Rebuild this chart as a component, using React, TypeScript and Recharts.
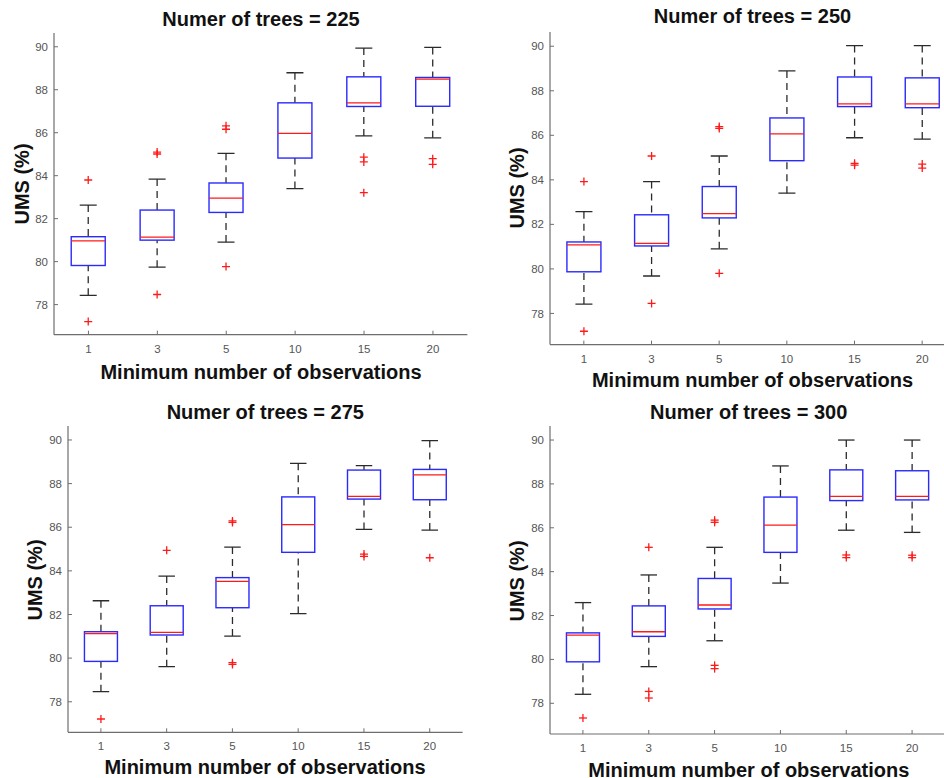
import React from "react";
import { ComposedChart, Bar, XAxis, YAxis } from "recharts";

const categories = ["1", "3", "5", "10", "15", "20"];
const yTicks = [78, 80, 82, 84, 86, 88, 90];
const yDomain: [number, number] = [76.6, 90.64];

// rows: [lower whisker, Q1, median, Q3, upper whisker]
const stats225 = [
  [78.43, 79.82, 80.97, 81.16, 82.63],
  [79.74, 81.0, 81.14, 82.4, 83.84],
  [80.91, 82.29, 82.96, 83.66, 85.04],
  [83.4, 84.82, 85.97, 87.39, 88.79],
  [85.85, 87.22, 87.39, 88.6, 89.94],
  [85.76, 87.23, 88.49, 88.57, 89.97],
];
const outliers225 = [
  [77.21, 83.8],
  [78.47, 85.01, 85.1],
  [79.77, 86.16, 86.32],
  [],
  [83.21, 84.64, 84.86],
  [84.53, 84.79],
];

const stats250 = [
  [78.42, 79.87, 81.08, 81.21, 82.57],
  [79.68, 81.03, 81.15, 82.43, 83.92],
  [80.9, 82.29, 82.48, 83.7, 85.07],
  [83.4, 84.86, 86.06, 86.78, 88.89],
  [85.89, 87.29, 87.41, 88.62, 90.03],
  [85.83, 87.24, 87.41, 88.58, 90.03],
];
const outliers250 = [
  [77.2, 83.92],
  [78.45, 85.07],
  [79.8, 86.31, 86.39],
  [],
  [84.66, 84.74],
  [84.53, 84.71],
];

const stats275 = [
  [78.46, 79.85, 81.12, 81.21, 82.63],
  [79.61, 81.06, 81.18, 82.4, 83.76],
  [81.01, 82.31, 83.52, 83.69, 85.09],
  [82.04, 84.85, 86.12, 87.39, 88.93],
  [85.9, 87.29, 87.41, 88.62, 88.82],
  [85.87, 87.26, 88.4, 88.65, 89.97],
];
const outliers275 = [
  [77.21],
  [84.94],
  [79.71, 79.79, 86.22, 86.29],
  [],
  [84.66, 84.77],
  [84.6],
];

const stats300 = [
  [78.41, 79.89, 81.11, 81.21, 82.59],
  [79.67, 81.05, 81.26, 82.44, 83.85],
  [80.85, 82.3, 82.48, 83.69, 85.11],
  [83.48, 84.88, 86.12, 87.4, 88.82],
  [85.89, 87.24, 87.43, 88.64, 90.0],
  [85.79, 87.27, 87.43, 88.6, 90.0],
];
const outliers300 = [
  [77.33],
  [78.24, 78.54, 85.11],
  [79.58, 79.73, 86.25, 86.35],
  [],
  [84.64, 84.76],
  [84.64, 84.75],
];

const FONT = '"Liberation Sans", Arial, Helvetica, sans-serif';
const AXIS_GRAY = "#6e6e6e";
const TICK_GRAY = "#555555";
const BOX_BLUE = "#2a2aff";
const MEDIAN_RED = "#ff1a1a";
const WHISKER = "#2b2b2b";

const buildRows = (stats: number[][], outliers: number[][]) =>
  categories.map((cat, i) => {
    const [w0, q1, med, q3, w1] = stats[i];
    const pts = outliers[i];
    const lo = Math.min(w0, ...pts);
    const hi = Math.max(w1, ...pts);
    return { cat, range: [lo, hi], lo, hi, w0, q1, med, q3, w1, pts };
  });

// The bar spans lo..hi of each group; everything else is placed
// proportionally inside that pixel span (the y scale is linear).
const BoxPlotShape = (props: any) => {
  const { x, y, width, height, payload } = props;
  if (!payload || width == null) return <g />;
  const top = Math.min(y, y + height);
  const bot = Math.max(y, y + height);
  const span = payload.hi - payload.lo;
  const toY = (v: number) =>
    span === 0 ? top : top + ((payload.hi - v) / span) * (bot - top);
  const cx = x + width / 2;
  const cap = width / 4;
  const yQ1 = toY(payload.q1);
  const yQ3 = toY(payload.q3);
  const yW0 = toY(payload.w0);
  const yW1 = toY(payload.w1);
  const yMed = toY(payload.med);
  return (
    <g>
      <line x1={cx} x2={cx} y1={yW1} y2={yQ3} stroke={WHISKER} strokeWidth={1.3} strokeDasharray="7 5" />
      <line x1={cx} x2={cx} y1={yW0} y2={yQ1} stroke={WHISKER} strokeWidth={1.3} strokeDasharray="7 5" />
      <line x1={cx - cap} x2={cx + cap} y1={yW1} y2={yW1} stroke={WHISKER} strokeWidth={1.3} />
      <line x1={cx - cap} x2={cx + cap} y1={yW0} y2={yW0} stroke={WHISKER} strokeWidth={1.3} />
      <rect x={x} y={yQ3} width={width} height={yQ1 - yQ3} fill="none" stroke={BOX_BLUE} strokeWidth={1.4} />
      <line x1={x} x2={x + width} y1={yMed} y2={yMed} stroke={MEDIAN_RED} strokeWidth={1.3} />
      {payload.pts.map((p: number, k: number) => {
        const py = toY(p);
        return (
          <g key={k} stroke={MEDIAN_RED} strokeWidth={1.3}>
            <line x1={cx - 4} x2={cx + 4} y1={py} y2={py} />
            <line x1={cx} x2={cx} y1={py - 4} y2={py + 4} />
          </g>
        );
      })}
    </g>
  );
};

interface PanelProps {
  title: string;
  stats: number[][];
  outliers: number[][];
  plot: { l: number; t: number; r: number; b: number };
  titleAt: [number, number];
  xLabelAt: [number, number];
  yLabelAt: [number, number];
}

const Y_AXIS_W = 40;
const X_AXIS_H = 30;
const PAD = 6;

const labelStyle = (at: [number, number], rotate = false): React.CSSProperties => ({
  position: "absolute",
  left: at[0],
  top: at[1],
  transform: `translate(-50%, -50%)${rotate ? " rotate(-90deg)" : ""}`,
  whiteSpace: "nowrap",
  fontFamily: FONT,
  fontWeight: "bold",
  fontSize: 20,
  color: "#111",
  lineHeight: 1,
});

const Panel: React.FC<PanelProps> = ({ title, stats, outliers, plot, titleAt, xLabelAt, yLabelAt }) => {
  const rows = buildRows(stats, outliers);
  const w = plot.r - plot.l + Y_AXIS_W + PAD;
  const h = plot.b - plot.t + X_AXIS_H + PAD;
  const axisProps = {
    axisLine: { stroke: AXIS_GRAY, strokeWidth: 1.2 },
    tickLine: { stroke: AXIS_GRAY, strokeWidth: 1 },
    tickSize: -4,
  };
  return (
    <>
      <div style={{ position: "absolute", left: plot.l - Y_AXIS_W, top: plot.t - PAD }}>
        <ComposedChart
          width={w}
          height={h}
          data={rows}
          margin={{ top: PAD, right: PAD, bottom: 0, left: 0 }}
          barCategoryGap="25%"
        >
          <XAxis
            xAxisId="bottom"
            dataKey="cat"
            orientation="bottom"
            height={X_AXIS_H}
            interval={0}
            tickMargin={14}
            tick={{ fill: TICK_GRAY, fontSize: 11.5, fontFamily: FONT }}
            {...axisProps}
          />
          <XAxis xAxisId="top" dataKey="cat" orientation="top" height={0} interval={0} tick={false} {...axisProps} />
          <YAxis
            yAxisId="left"
            type="number"
            domain={yDomain}
            ticks={yTicks}
            allowDataOverflow
            width={Y_AXIS_W}
            tickMargin={10}
            tick={{ fill: TICK_GRAY, fontSize: 11.5, fontFamily: FONT }}
            {...axisProps}
          />
          <YAxis
            yAxisId="right"
            orientation="right"
            type="number"
            domain={yDomain}
            ticks={yTicks}
            allowDataOverflow
            width={0}
            tick={false}
            {...axisProps}
          />
          <Bar
            dataKey="range"
            xAxisId="bottom"
            yAxisId="left"
            shape={BoxPlotShape}
            isAnimationActive={false}
          />
        </ComposedChart>
      </div>
      <div style={labelStyle(titleAt)}>{title}</div>
      <div style={labelStyle(xLabelAt)}>Minimum number of observations</div>
      <div style={labelStyle(yLabelAt, true)}>UMS (%)</div>
    </>
  );
};

const App: React.FC = () => {
  return (
    <div
      style={{
        position: "absolute",
        left: 0,
        top: 0,
        width: 944,
        height: 778,
        overflow: "hidden",
        background: "#fff",
      }}
    >
      <Panel
        title="Numer of trees = 225"
        stats={stats225}
        outliers={outliers225}
        plot={{ l: 54.3, t: 33.3, r: 467.7, b: 335 }}
        titleAt={[261, 19]}
        xLabelAt={[261, 371.7]}
        yLabelAt={[21.7, 184]}
      />
      <Panel
        title="Numer of trees = 250"
        stats={stats250}
        outliers={outliers250}
        plot={{ l: 550, t: 31.7, r: 956, b: 344.3 }}
        titleAt={[752.5, 15.7]}
        xLabelAt={[752.5, 380]}
        yLabelAt={[517.3, 188]}
      />
      <Panel
        title="Numer of trees = 275"
        stats={stats275}
        outliers={outliers275}
        plot={{ l: 67.7, t: 426, r: 462.3, b: 732.3 }}
        titleAt={[265.3, 412.3]}
        xLabelAt={[265, 767.3]}
        yLabelAt={[35, 580]}
      />
      <Panel
        title="Numer of trees = 300"
        stats={stats300}
        outliers={outliers300}
        plot={{ l: 550, t: 426, r: 945, b: 734 }}
        titleAt={[748.7, 411.7]}
        xLabelAt={[748.8, 770]}
        yLabelAt={[517.3, 580.8]}
      />
    </div>
  );
};

export default App;
